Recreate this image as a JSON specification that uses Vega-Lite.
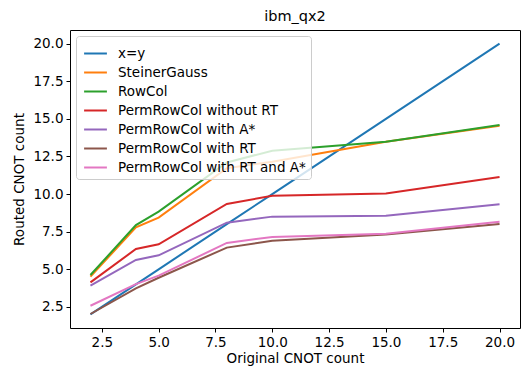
{
  "$schema": "https://vega.github.io/schema/vega-lite/v6.json",
  "autosize": {"type": "none"},
  "padding": {"left": 70, "top": 30, "right": 5, "bottom": 45},
  "width": 450,
  "height": 298,
  "background": "white",
  "config": {
    "font": "DejaVu Sans",
    "view": {"stroke": "black", "strokeWidth": 1},
    "axis": {"grid": false, "domain": false, "tickColor": "black", "tickSize": 4, "labelColor": "black", "labelFontSize": 13.5, "titleFontSize": 13.5, "titleFontWeight": "normal", "titleColor": "black", "labelPadding": 3}
  },
  "title": {"text": "ibm_qx2", "fontSize": 14.5, "fontWeight": "normal", "color": "black", "offset": 6},
  "data": {
    "values": [
      {"series": "x=y", "x": 2, "y": 2},
      {"series": "x=y", "x": 4, "y": 4},
      {"series": "x=y", "x": 5, "y": 5},
      {"series": "x=y", "x": 8, "y": 8},
      {"series": "x=y", "x": 10, "y": 10},
      {"series": "x=y", "x": 15, "y": 15},
      {"series": "x=y", "x": 20, "y": 20},
      {"series": "SteinerGauss", "x": 2, "y": 4.51},
      {"series": "SteinerGauss", "x": 4, "y": 7.79},
      {"series": "SteinerGauss", "x": 5, "y": 8.43},
      {"series": "SteinerGauss", "x": 8, "y": 11.71},
      {"series": "SteinerGauss", "x": 10, "y": 12.15},
      {"series": "SteinerGauss", "x": 15, "y": 13.48},
      {"series": "SteinerGauss", "x": 20, "y": 14.54},
      {"series": "RowCol", "x": 2, "y": 4.62},
      {"series": "RowCol", "x": 4, "y": 7.94},
      {"series": "RowCol", "x": 5, "y": 8.83},
      {"series": "RowCol", "x": 8, "y": 12.1},
      {"series": "RowCol", "x": 10, "y": 12.88},
      {"series": "RowCol", "x": 15, "y": 13.48},
      {"series": "RowCol", "x": 20, "y": 14.59},
      {"series": "PermRowCol without RT", "x": 2, "y": 4.13},
      {"series": "PermRowCol without RT", "x": 4, "y": 6.35},
      {"series": "PermRowCol without RT", "x": 5, "y": 6.66},
      {"series": "PermRowCol without RT", "x": 8, "y": 9.34},
      {"series": "PermRowCol without RT", "x": 10, "y": 9.89},
      {"series": "PermRowCol without RT", "x": 15, "y": 10.03},
      {"series": "PermRowCol without RT", "x": 20, "y": 11.13},
      {"series": "PermRowCol with A*", "x": 2, "y": 3.91},
      {"series": "PermRowCol with A*", "x": 4, "y": 5.62},
      {"series": "PermRowCol with A*", "x": 5, "y": 5.93},
      {"series": "PermRowCol with A*", "x": 8, "y": 8.1},
      {"series": "PermRowCol with A*", "x": 10, "y": 8.5},
      {"series": "PermRowCol with A*", "x": 15, "y": 8.56},
      {"series": "PermRowCol with A*", "x": 20, "y": 9.32},
      {"series": "PermRowCol with RT", "x": 2, "y": 2.03},
      {"series": "PermRowCol with RT", "x": 4, "y": 3.74},
      {"series": "PermRowCol with RT", "x": 5, "y": 4.44},
      {"series": "PermRowCol with RT", "x": 8, "y": 6.44},
      {"series": "PermRowCol with RT", "x": 10, "y": 6.9},
      {"series": "PermRowCol with RT", "x": 15, "y": 7.32},
      {"series": "PermRowCol with RT", "x": 20, "y": 8.01},
      {"series": "PermRowCol with RT and A*", "x": 2, "y": 2.58},
      {"series": "PermRowCol with RT and A*", "x": 4, "y": 4.02},
      {"series": "PermRowCol with RT and A*", "x": 5, "y": 4.58},
      {"series": "PermRowCol with RT and A*", "x": 8, "y": 6.75},
      {"series": "PermRowCol with RT and A*", "x": 10, "y": 7.15},
      {"series": "PermRowCol with RT and A*", "x": 15, "y": 7.37},
      {"series": "PermRowCol with RT and A*", "x": 20, "y": 8.16}
    ]
  },
  "mark": {"type": "line", "strokeWidth": 2},
  "encoding": {
    "x": {"field": "x", "type": "quantitative", "title": "Original CNOT count",
      "scale": {"domain": [1.1, 20.9], "nice": false, "zero": false},
      "axis": {"values": [2.5, 5, 7.5, 10, 12.5, 15, 17.5, 20], "format": ".1f", "titlePadding": 3}},
    "y": {"field": "y", "type": "quantitative", "title": "Routed CNOT count",
      "scale": {"domain": [1.1, 20.9], "nice": false, "zero": false},
      "axis": {"values": [2.5, 5, 7.5, 10, 12.5, 15, 17.5, 20], "format": ".1f", "titlePadding": 6}},
    "color": {"field": "series", "type": "nominal",
      "scale": {"domain": ["x=y", "SteinerGauss", "RowCol", "PermRowCol without RT", "PermRowCol with A*", "PermRowCol with RT", "PermRowCol with RT and A*"],
        "range": ["#1f77b4", "#ff7f0e", "#2ca02c", "#d62728", "#9467bd", "#8c564b", "#e377c2"]},
      "legend": {"title": null, "orient": "top-left", "offset": 6, "padding": 5, "fillColor": "rgba(255,255,255,0.8)", "strokeColor": "#cccccc", "cornerRadius": 3,
        "symbolType": "stroke", "symbolSize": 520, "symbolStrokeWidth": 2, "labelFontSize": 13.5, "labelColor": "black", "rowPadding": 0, "labelOffset": 10, "symbolOffset": 2, "labelLimit": 300}},
    "order": {"field": "x", "type": "quantitative"}
  }
}
